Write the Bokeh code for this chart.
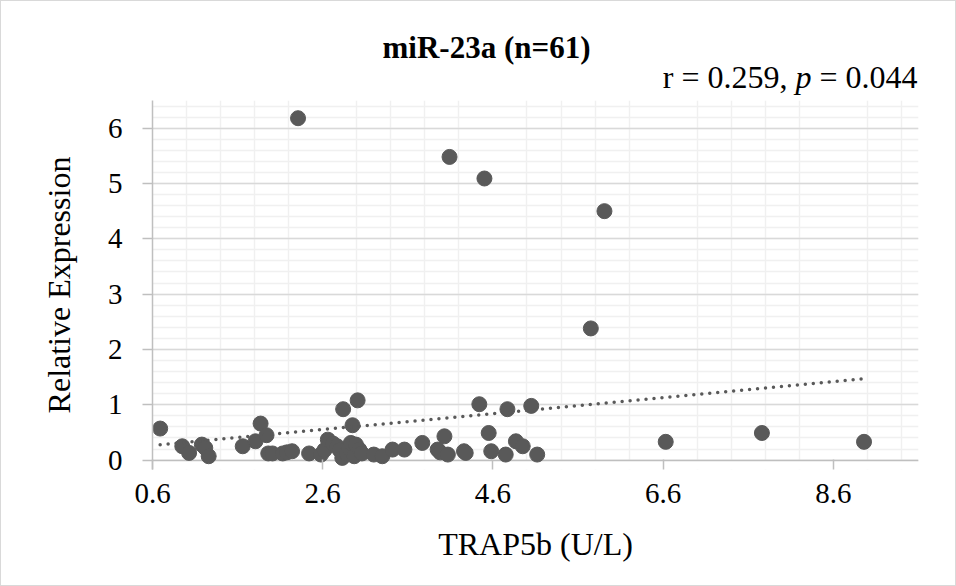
import numpy as np
from bokeh.plotting import figure
from bokeh.layouts import column
from bokeh.models import FixedTicker, SingleIntervalTicker, Label, Range1d
from bokeh.embed import file_html
from bokeh.resources import INLINE

# TRAP5b serum level (U/L) and miR-23a relative expression, one entry per patient
trap5b = [0.69, 0.95, 1.03, 1.18, 1.22, 1.26, 1.66, 1.81, 1.87, 1.94, 1.96,
          2.01, 2.13, 2.18, 2.24, 2.31, 2.44, 2.58, 2.62, 2.66, 2.72, 2.77,
          2.80, 2.83, 2.84, 2.88, 2.91, 2.93, 2.95, 2.97, 2.99, 3.01, 3.03,
          3.06, 3.20, 3.30, 3.42, 3.56, 3.77, 3.95, 3.98, 4.03, 4.07, 4.09,
          4.26, 4.28, 4.44, 4.50, 4.55, 4.58, 4.75, 4.77, 4.87, 4.95, 5.05,
          5.12, 5.75, 5.91, 6.63, 7.76, 8.96]
expression = [0.57, 0.25, 0.13, 0.28, 0.22, 0.07, 0.25, 0.34, 0.66, 0.45, 0.12,
              0.12, 0.12, 0.14, 0.16, 6.18, 0.12, 0.10, 0.18, 0.37, 0.30, 0.25,
              0.18, 0.04, 0.92, 0.12, 0.22, 0.31, 0.63, 0.07, 0.28, 1.08, 0.19,
              0.12, 0.10, 0.07, 0.19, 0.19, 0.31, 0.19, 0.14, 0.43, 0.10, 5.48,
              0.16, 0.13, 1.01, 5.09, 0.49, 0.16, 0.10, 0.92, 0.34, 0.25, 0.98,
              0.10, 2.38, 4.50, 0.33, 0.49, 0.33]

x_ticks = [0.6, 2.6, 4.6, 6.6, 8.6]
title_text = "miR-23a (n=61)"
stat_r = "r = 0.259,"
stat_p = "p"
stat_pval = "= 0.044"
x_title = "TRAP5b (U/L)"
y_title = "Relative Expression"

FONT = "Liberation Serif"
GREY = "#595959"
AXIS = "#bfbfbf"

x_start, x_end = 0.6, 9.6
y_start, y_end = -0.17, 6.5

W = 954
HEAD_H = 99          # strip holding the title and the correlation text
BODY_H = 485         # scatter plot
FL, FR, FB = 151, 917, 369   # frame edges of the scatter plot, in pixels

# ---- heading strip: same side borders as the plot, pixel-scaled ranges ----
head = figure(width=W, height=HEAD_H, output_backend="svg", toolbar_location=None,
              x_range=Range1d(FL, FR), y_range=Range1d(HEAD_H, 0),
              x_axis_type=None, y_axis_type=None,
              min_border_left=FL, min_border_right=W - FR,
              min_border_top=0, min_border_bottom=0, title_location=None)
head.grid.visible = False
head.outline_line_color = None
head.background_fill_color = "white"
head.border_fill_color = "white"

head.add_layout(Label(x=485, y=46, text=title_text,
                      text_font=FONT, text_font_size="31px",
                      text_font_style="bold", text_align="center",
                      text_baseline="alphabetic", text_color="#000000"))
stat_base = 75
head.add_layout(Label(x=916, y=stat_base, text=stat_pval,
                      text_font=FONT, text_font_size="32px", text_align="right",
                      text_baseline="alphabetic", text_color="#000000"))
head.add_layout(Label(x=810, y=stat_base, text=stat_p,
                      text_font=FONT, text_font_size="32px",
                      text_font_style="italic", text_align="right",
                      text_baseline="alphabetic", text_color="#000000"))
head.add_layout(Label(x=786, y=stat_base, text=stat_r,
                      text_font=FONT, text_font_size="32px", text_align="right",
                      text_baseline="alphabetic", text_color="#000000"))

# ---- scatter plot ----
p = figure(width=W, height=BODY_H, output_backend="svg", toolbar_location=None,
           x_range=(x_start, x_end), y_range=(y_start, y_end),
           min_border_left=FL, min_border_right=W - FR,
           min_border_top=0, min_border_bottom=BODY_H - FB,
           title_location=None)
p.outline_line_color = None
p.background_fill_color = "white"
p.border_fill_color = "white"

# x axis: labels every 2 U/L, light minor grid every 0.4 (none at the labelled values)
minor_x = [round(x_start + 0.4 * k, 2) for k in range(1, 23) if k % 5 != 0]
p.xaxis.ticker = FixedTicker(ticks=x_ticks, minor_ticks=minor_x)
p.xaxis.axis_line_color = None
p.xaxis.major_tick_in = 10
p.xaxis.major_tick_out = 0
p.xaxis.major_tick_line_color = AXIS
p.xaxis.major_tick_line_width = 1.5
p.xaxis.minor_tick_line_color = None
p.xaxis.major_label_standoff = 10
p.xaxis.axis_label = x_title
p.xaxis.axis_label_standoff = 20

p.yaxis.ticker = SingleIntervalTicker(interval=1, num_minor_ticks=5)
p.yaxis.axis_line_color = AXIS
p.yaxis.axis_line_width = 1.5
p.yaxis.major_tick_out = 10
p.yaxis.major_tick_in = 0
p.yaxis.major_tick_line_color = AXIS
p.yaxis.major_tick_line_width = 1.5
p.yaxis.minor_tick_line_color = None
p.yaxis.major_label_standoff = 20
p.yaxis.axis_label = y_title
p.yaxis.axis_label_standoff = 28

for ax in (p.xaxis, p.yaxis):
    ax.major_label_text_font = FONT
    ax.major_label_text_font_size = "29px"
    ax.major_label_text_color = "#000000"
    ax.axis_label_text_font = FONT
    ax.axis_label_text_font_size = "32px"
    ax.axis_label_text_font_style = "normal"
    ax.axis_label_text_color = "#000000"

p.xgrid.grid_line_color = None
p.xgrid.minor_grid_line_color = "#f0f0f0"
p.xgrid.minor_grid_line_width = 1.5
p.ygrid.grid_line_color = "#d9d9d9"
p.ygrid.grid_line_width = 1.5
p.ygrid.minor_grid_line_color = "#f0f0f0"
p.ygrid.minor_grid_line_width = 1.5

# blank strip under the zero line, then the horizontal axis line itself
p.quad(left=x_start, right=x_end, bottom=y_start, top=0,
       fill_color="white", line_color=None)
p.hspan(y=0, line_color=AXIS, line_width=1.5)

p.scatter(trap5b, expression, size=15, fill_color=GREY, line_color=GREY,
          line_width=1)

# least-squares trend line across the observed TRAP5b range
slope, intercept = np.polyfit(trap5b, expression, 1)
tx = np.array([min(trap5b), max(trap5b)])
p.line(tx, intercept + slope * tx, line_color=GREY, line_width=3.5,
       line_dash="0 8", line_cap="round")

page = column(head, p, spacing=0, styles={"border": "1px solid #d9d9d9"})

open("out.html", "w").write(file_html(page, INLINE))
